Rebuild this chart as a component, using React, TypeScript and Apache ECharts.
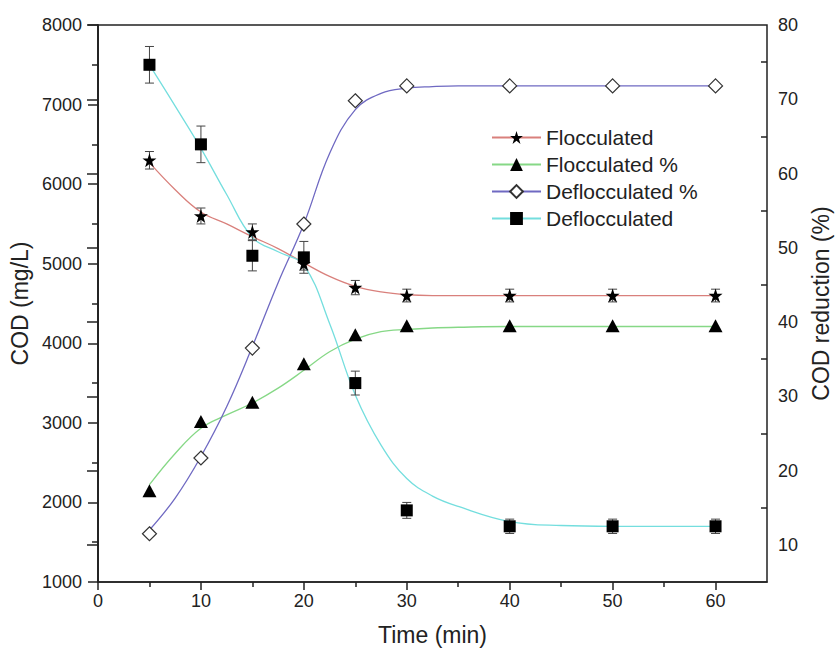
import React, { useEffect, useRef } from "react";
import * as echarts from "echarts";

// ---- Data ----
const timeMin = [5, 10, 15, 20, 25, 30, 40, 50, 60];
const flocculatedCOD = [6300, 5600, 5400, 5000, 4700, 4600, 4600, 4600, 4600];
const flocculatedErr = [110, 100, 100, 80, 90, 80, 80, 80, 80];
const deflocculatedCOD = [7500, 6500, 5100, 5080, 3500, 1900, 1700, 1700, 1700];
const deflocculatedErr = [230, 230, 190, 200, 150, 100, 90, 90, 90];
const flocculatedPct = [17.3, 26.6, 29.2, 34.4, 38.3, 39.5, 39.5, 39.5, 39.5];
const deflocculatedPct = [11.5, 21.7, 36.5, 53.2, 69.8, 71.8, 71.8, 71.8, 71.8];

// fitted curves
const fitTime = [5, 7.5, 10, 12.5, 15, 17.5, 20, 22.5, 25, 27.5, 30, 32.5, 35, 40, 45, 50, 60];
const flocculatedFit = [6270, 5930, 5650, 5500, 5340, 5190, 5010, 4840, 4715, 4645, 4610, 4600, 4600, 4600, 4600, 4600, 4600];
const flocculatedPctFit = [18.1, 22.3, 25.7, 27.5, 29.1, 31.1, 33.5, 36.0, 37.7, 38.7, 39.0, 39.2, 39.3, 39.4, 39.4, 39.4, 39.4];
const deflocculatedPctFit = [12.0, 16.3, 21.9, 28.6, 36.7, 45.3, 53.2, 62.7, 68.6, 70.8, 71.5, 71.7, 71.8, 71.8, 71.8, 71.8, 71.8];
const deflocculatedFit = [7500, 6980, 6450, 5870, 5330, 5150, 4980, 4250, 3350, 2720, 2300, 2080, 1950, 1760, 1710, 1700, 1700];

const xMajorTicks = [0, 10, 20, 30, 40, 50, 60];
const xMinorTicks = [5, 15, 25, 35, 45, 55];
const leftMajorTicks = [1000, 2000, 3000, 4000, 5000, 6000, 7000, 8000];
const leftMinorTicks = [1500, 2500, 3500, 4500, 5500, 6500, 7500];
const rightMajorTicks = [10, 20, 30, 40, 50, 60, 70, 80];
const rightMinorTicks = [15, 25, 35, 45, 55, 65, 75];

const seriesNames = ["Flocculated", "Flocculated %", "Deflocculated %", "Deflocculated"];

const FONT = "'Liberation Sans', Arial, Helvetica, sans-serif";
const INK = "#222";
const STAR = "path://M12,0 L14.9,8.6 L24,8.6 L16.6,14 L19.4,22.8 L12,17.4 L4.6,22.8 L7.4,14 L0,8.6 L9.1,8.6 Z";

const zip = (xs: number[], ys: number[]) => xs.map((x, i) => [x, ys[i]]);
const zip3 = (xs: number[], ys: number[], es: number[]) => xs.map((x, i) => [x, ys[i], es[i]]);

export default function App() {
  const ref = useRef<HTMLDivElement>(null);

  useEffect(() => {
    if (!ref.current) return;
    const chart = echarts.init(ref.current, null, { renderer: "svg" });

    const errRender = (params: any, api: any) => {
      const x = api.value(0);
      const v = api.value(1);
      const e = api.value(2);
      const top = api.coord([x, v + e]);
      const bot = api.coord([x, v - e]);
      const hw = 4.5;
      const st = { stroke: "#444", lineWidth: 1 };
      return {
        type: "group",
        children: [
          { type: "line", shape: { x1: top[0], y1: top[1], x2: bot[0], y2: bot[1] }, style: st },
          { type: "line", shape: { x1: top[0] - hw, y1: top[1], x2: top[0] + hw, y2: top[1] }, style: st },
          { type: "line", shape: { x1: bot[0] - hw, y1: bot[1], x2: bot[0] + hw, y2: bot[1] }, style: st },
        ],
      };
    };

    const axisLine = { show: true, lineStyle: { color: INK, width: 1.5 } };
    const labelStyle = { fontSize: 18, color: INK, fontFamily: FONT, formatter: (v: number) => String(v) };
    const nameStyle = { fontSize: 23, color: INK, fontFamily: FONT };

    const option: any = {
      animation: false,
      backgroundColor: "#fff",
      grid: {
        left: 98,
        right: 72,
        top: 25,
        bottom: 80,
        show: true,
        borderColor: INK,
        borderWidth: 1.5,
        backgroundColor: "transparent",
      },
      legend: {
        data: seriesNames,
        orient: "vertical",
        left: 486,
        top: 122,
        itemWidth: 49,
        itemHeight: 16,
        itemGap: 6,
        textStyle: { fontSize: 21, color: INK, fontFamily: FONT, lineHeight: 21 },
      },
      xAxis: [
        {
          type: "value",
          min: 0,
          max: 65,
          position: "bottom",
          axisLine,
          axisTick: { show: true, customValues: xMajorTicks, length: 8, lineStyle: { color: INK, width: 1.5 } },
          axisLabel: { show: true, customValues: xMajorTicks, margin: 10, ...labelStyle },
          splitLine: { show: false },
          name: "Time (min)",
          nameLocation: "middle",
          nameGap: 41,
          nameTextStyle: nameStyle,
        },
        {
          type: "value",
          min: 0,
          max: 65,
          position: "bottom",
          axisLine: { show: false },
          axisTick: { show: true, customValues: xMinorTicks, length: 5, lineStyle: { color: INK, width: 1.5 } },
          axisLabel: { show: false },
          splitLine: { show: false },
        },
      ],
      yAxis: [
        {
          type: "value",
          min: 1000,
          max: 8000,
          position: "left",
          axisLine,
          axisTick: { show: true, customValues: leftMajorTicks, length: 10, lineStyle: { color: INK, width: 1.5 } },
          axisLabel: { show: true, customValues: leftMajorTicks, margin: 16, ...labelStyle },
          splitLine: { show: false },
          name: "COD (mg/L)",
          nameLocation: "middle",
          nameGap: 57,
          nameTextStyle: nameStyle,
        },
        {
          type: "value",
          min: 5,
          max: 80,
          position: "right",
          axisLine,
          axisTick: { show: true, inside: true, customValues: rightMajorTicks, length: 11, lineStyle: { color: INK, width: 1.5 } },
          axisLabel: { show: true, customValues: rightMajorTicks, margin: 11, ...labelStyle },
          splitLine: { show: false },
          name: "COD reduction (%)",
          nameLocation: "middle",
          nameGap: 42,
          nameRotate: 90,
          nameTextStyle: nameStyle,
        },
        {
          type: "value",
          min: 1000,
          max: 8000,
          position: "left",
          axisLine: { show: false },
          axisTick: { show: true, customValues: leftMinorTicks, length: 6, lineStyle: { color: INK, width: 1.5 } },
          axisLabel: { show: false },
          splitLine: { show: false },
        },
        {
          type: "value",
          min: 5,
          max: 80,
          position: "right",
          axisLine: { show: false },
          axisTick: { show: true, inside: true, customValues: rightMinorTicks, length: 6, lineStyle: { color: INK, width: 1.5 } },
          axisLabel: { show: false },
          splitLine: { show: false },
        },
      ],
      series: [
        // fitted curves (these carry the legend entries)
        {
          name: seriesNames[0], type: "line", yAxisIndex: 0, data: zip(fitTime, flocculatedFit),
          smooth: 0.4, showSymbol: false, symbol: STAR, symbolSize: 14,
          itemStyle: { color: "#000" }, lineStyle: { color: "#d9807c", width: 1.3 }, z: 2,
        },
        {
          name: seriesNames[1], type: "line", yAxisIndex: 1, data: zip(fitTime, flocculatedPctFit),
          smooth: 0.4, showSymbol: false, symbol: "triangle", symbolSize: 14,
          itemStyle: { color: "#000" }, lineStyle: { color: "#86d886", width: 1.3 }, z: 2,
        },
        {
          name: seriesNames[2], type: "line", yAxisIndex: 1, data: zip(fitTime, deflocculatedPctFit),
          smooth: 0.4, showSymbol: false, symbol: "diamond", symbolSize: 14,
          itemStyle: { color: "#fff", borderColor: "#333", borderWidth: 1 }, lineStyle: { color: "#6f69c2", width: 1.3 }, z: 2,
        },
        {
          name: seriesNames[3], type: "line", yAxisIndex: 0, data: zip(fitTime, deflocculatedFit),
          smooth: 0.4, showSymbol: false, symbol: "rect", symbolSize: 12,
          itemStyle: { color: "#000" }, lineStyle: { color: "#74dede", width: 1.3 }, z: 2,
        },
        // error bars
        {
          name: "err-floc", type: "custom", yAxisIndex: 0, renderItem: errRender,
          data: zip3(timeMin, flocculatedCOD, flocculatedErr), encode: { x: 0, y: 1 }, z: 3,
        },
        {
          name: "err-defloc", type: "custom", yAxisIndex: 0, renderItem: errRender,
          data: zip3(timeMin, deflocculatedCOD, deflocculatedErr), encode: { x: 0, y: 1 }, z: 3,
        },
        // markers
        {
          name: "pts-floc", type: "scatter", yAxisIndex: 0, data: zip(timeMin, flocculatedCOD),
          symbol: STAR, symbolSize: 14, itemStyle: { color: "#000", opacity: 1 }, z: 4,
        },
        {
          name: "pts-floc-pct", type: "scatter", yAxisIndex: 1, data: zip(timeMin, flocculatedPct),
          symbol: "triangle", symbolSize: [14, 13], itemStyle: { color: "#000", opacity: 1 }, z: 4,
        },
        {
          name: "pts-defloc-pct", type: "scatter", yAxisIndex: 1, data: zip(timeMin, deflocculatedPct),
          symbol: "diamond", symbolSize: 14, itemStyle: { color: "#fff", borderColor: "#333", borderWidth: 1.2, opacity: 1 }, z: 4,
        },
        {
          name: "pts-defloc", type: "scatter", yAxisIndex: 0, data: zip(timeMin, deflocculatedCOD),
          symbol: "rect", symbolSize: 12, itemStyle: { color: "#000", opacity: 1 }, z: 4,
        },
      ],
    };

    chart.setOption(option);
    return () => chart.dispose();
  }, []);

  return (
    <div
      ref={ref}
      style={{ position: "fixed", left: 0, top: 0, width: 840, height: 662, background: "#fff" }}
    />
  );
}
